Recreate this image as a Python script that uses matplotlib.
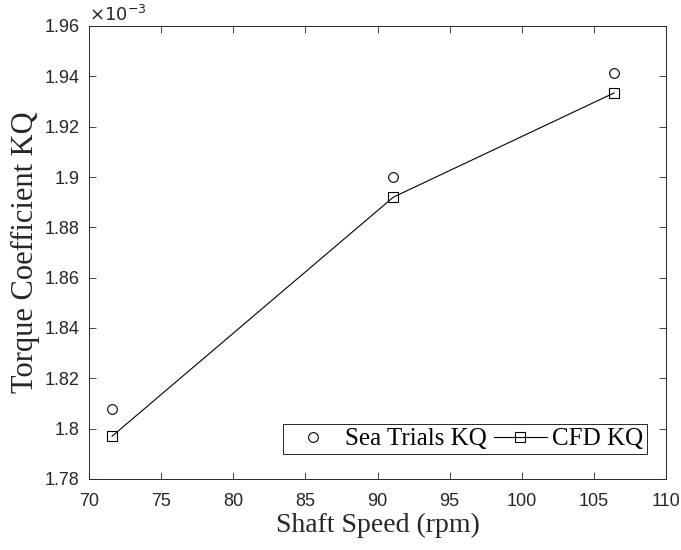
import matplotlib
matplotlib.use("Agg")
import matplotlib.pyplot as plt
from matplotlib.ticker import FuncFormatter, MultipleLocator

# --- dados ---
rpm = [71.6, 91.1, 106.4]
kq_sea = [1.808e-3, 1.900e-3, 1.9415e-3]
kq_cfd = [1.797e-3, 1.892e-3, 1.9334e-3]

fig = plt.figure(figsize=(6.81, 5.5), dpi=100)
ax = fig.add_axes([89 / 681, 1 - 479 / 550, 577 / 681, 453 / 550])

ax.plot(rpm, kq_sea, linestyle="none", marker="o", ms=7, mfc="none",
        mec="black", mew=0.8, label="Sea Trials KQ")
ax.plot(rpm, kq_cfd, color="black", lw=0.8, marker="s", ms=7, mfc="none",
        mec="black", mew=0.8, label="CFD KQ")

ax.set_xlim(70, 110)
ax.set_ylim(1.78e-3, 1.96e-3)
ax.xaxis.set_major_locator(MultipleLocator(5))
ax.yaxis.set_major_locator(MultipleLocator(0.02e-3))
ax.yaxis.set_major_formatter(FuncFormatter(lambda v, p: f"{v * 1e3:.4g}"))

tick_font = "Liberation Sans"
ax.tick_params(direction="in", top=True, right=True, length=5, width=0.6,
               labelsize=13, colors="#262626")
ax.tick_params(axis="x", pad=10)
ax.tick_params(axis="y", pad=7)
for lab in ax.get_xticklabels() + ax.get_yticklabels():
    lab.set_fontfamily(tick_font)
for s in ax.spines.values():
    s.set_color("#262626")
    s.set_linewidth(0.7)

ax.text(0.0, 1.003, r"$\times10^{-3}$", transform=ax.transAxes, ha="left",
        va="bottom", fontsize=13, family=tick_font, color="#262626")

ax.set_xlabel("Shaft Speed (rpm)", family="Liberation Serif", fontsize=20,
              color="#262626", labelpad=2)
ax.set_ylabel("Torque Coefficient KQ", family="Liberation Serif", fontsize=22,
              color="#262626", labelpad=3)

leg = ax.legend(ncol=2, loc="lower right", bbox_to_anchor=(0.967, 0.055),
                prop={"family": "Liberation Serif", "size": 18},
                fancybox=False, edgecolor="#262626", framealpha=1,
                handlelength=2.1, columnspacing=0.3, handletextpad=0.22,
                borderpad=0.15, borderaxespad=0)
leg.get_frame().set_linewidth(0.7)

fig.savefig("out.png", dpi=100)
